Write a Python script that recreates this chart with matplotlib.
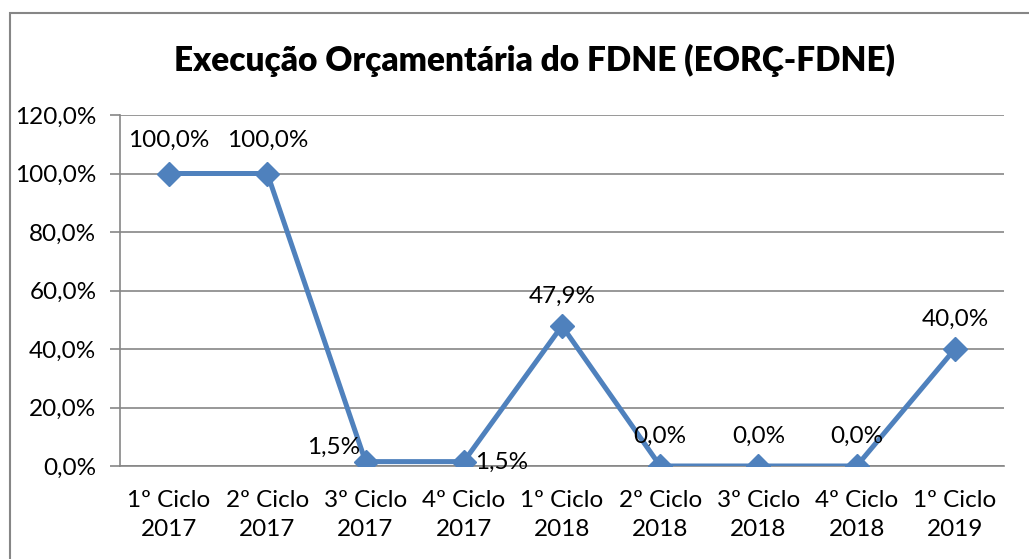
import matplotlib.pyplot as plt
from matplotlib.patches import Rectangle

# data
categorias = ['1º Ciclo\n2017', '2º Ciclo\n2017', '3º Ciclo\n2017', '4º Ciclo\n2017',
              '1º Ciclo\n2018', '2º Ciclo\n2018', '3º Ciclo\n2018', '4º Ciclo\n2018',
              '1º Ciclo\n2019']
execucao = [100.0, 100.0, 1.5, 1.5, 47.9, 0.0, 0.0, 0.0, 40.0]
yticks = [0, 20, 40, 60, 80, 100, 120]

# label offsets in points (dx, dy) and alignment per point
offsets = [(0, 16, 'center'), (0, 16, 'center'), (-4, 3, 'right'), (8, -8, 'left'),
           (0, 14, 'center'), (0, 14, 'center'), (0, 14, 'center'), (0, 14, 'center'),
           (0, 14, 'center')]

plt.rcParams['font.family'] = ['Lato', 'DejaVu Sans']
cinza = '#868686'
azul = '#4F81BD'

fig = plt.figure(figsize=(10.29, 5.59), dpi=100)
ax = fig.add_axes([120/1029, 1-466/559, 884/1029, 351/559])

x = list(range(len(categorias)))
ax.plot(x, execucao, color=azul, lw=3.6, marker='D', markersize=12,
        markerfacecolor=azul, markeredgecolor=azul, zorder=3)

for xi, v, (dx, dy, ha) in zip(x, execucao, offsets):
    ax.annotate(f'{v:.1f}%'.replace('.', ','), (xi, v), xytext=(dx, dy),
                textcoords='offset points', ha=ha, va='bottom', fontsize=17.5, color='black')

ax.set_xlim(-0.5, len(categorias) - 0.5)
ax.set_ylim(0, 120)
ax.set_yticks(yticks)
ax.set_yticklabels([f'{t:.1f}%'.replace('.', ',') for t in yticks], fontsize=17.5)
ax.set_xticks(x)
ax.set_xticklabels(categorias, fontsize=17.5, linespacing=1.5)
ax.tick_params(axis='x', length=0, pad=17)
ax.tick_params(axis='y', length=7, color=cinza, width=1.2, pad=10)
ax.grid(axis='y', color=cinza, lw=1.2)
ax.set_axisbelow(True)
for s in ['top', 'right']:
    ax.spines[s].set_visible(False)
for s in ['left', 'bottom']:
    ax.spines[s].set_color(cinza)
    ax.spines[s].set_linewidth(1.2)

fig.text(534/1029, 1-60/559, 'Execução Orçamentária do FDNE (EORÇ-FDNE)',
         ha='center', va='center', fontsize=24, fontweight='heavy')

# chart border (extends beyond the image on right and bottom)
fig.patches.append(Rectangle((10/1029, -0.1), 1.2, 1-13/559+0.1, transform=fig.transFigure,
                             fill=False, edgecolor=cinza, lw=1.5, clip_on=False))

fig.savefig('out.png', dpi=100)
